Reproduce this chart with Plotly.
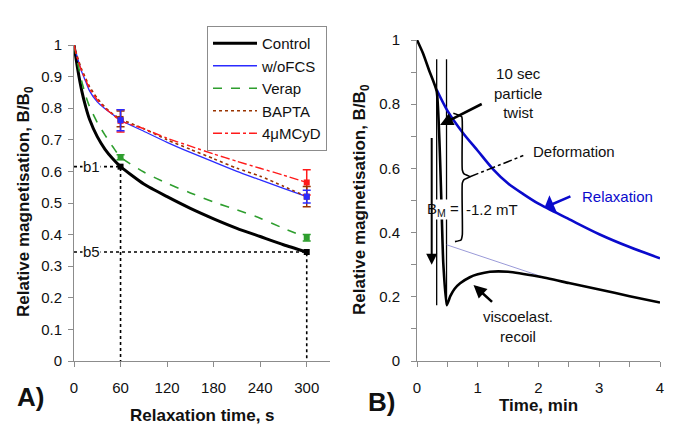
import plotly.graph_objects as go

# ---------------- Panel A data ----------------
t_a = [0, 5, 10, 15, 20, 30, 40, 50, 60, 90, 120, 150, 180, 210, 240, 270, 300]
control = [1.0, 0.92, 0.855, 0.805, 0.765, 0.71, 0.67, 0.64, 0.615, 0.56, 0.52, 0.483, 0.45, 0.42, 0.394, 0.368, 0.345]
wofcs = [1.0, 0.955, 0.915, 0.885, 0.855, 0.82, 0.798, 0.78, 0.762, 0.727, 0.692, 0.66, 0.63, 0.60, 0.573, 0.546, 0.52]
verap = [1.0, 0.94, 0.885, 0.84, 0.805, 0.755, 0.715, 0.678, 0.645, 0.598, 0.562, 0.532, 0.503, 0.478, 0.452, 0.42, 0.39]
bapta = [1.0, 0.958, 0.922, 0.895, 0.868, 0.832, 0.803, 0.782, 0.766, 0.735, 0.70, 0.67, 0.64, 0.61, 0.585, 0.553, 0.52]
cyd = [1.0, 0.952, 0.917, 0.89, 0.862, 0.826, 0.80, 0.78, 0.76, 0.735, 0.705, 0.68, 0.655, 0.632, 0.61, 0.588, 0.565]

t_marks = [60, 300]
control_m = [0.615, 0.345]
control_err = [0.0, 0.0]
wofcs_m = [0.762, 0.52]
wofcs_err = [0.033, 0.02]
verap_m = [0.645, 0.39]
verap_err = [0.008, 0.01]
bapta_m = [0.766, 0.52]
bapta_err = [0.025, 0.032]
cyd_m = [0.76, 0.565]
cyd_err = [0.035, 0.04]

ticks_a_x = [0, 60, 120, 180, 240, 300]
ticks_a_y = [0, 0.1, 0.2, 0.3, 0.4, 0.5, 0.6, 0.7, 0.8, 0.9, 1]
ref_labels = ["b1", "b5"]

# ---------------- Panel B data ----------------
t_b_black = [0, 0.1, 0.2, 0.324, 0.433, 0.489, 0.55, 0.62, 0.71, 0.87, 1.0, 1.2, 1.5, 2.0, 2.5, 3.0, 3.5, 4.0]
v_b_black = [1.0, 0.958, 0.905, 0.84, 0.304, 0.174, 0.203, 0.225, 0.242, 0.261, 0.27, 0.278, 0.278, 0.263, 0.243, 0.223, 0.202, 0.182]
t_b_relax = [0.324, 0.5, 0.75, 1.0, 1.25, 1.5, 1.75, 2.0, 2.5, 3.0, 3.5, 4.0]
v_b_relax = [0.845, 0.78, 0.712, 0.655, 0.598, 0.553, 0.52, 0.49, 0.442, 0.395, 0.355, 0.32]
t_b_extrap = [0.489, 2.1]
v_b_extrap = [0.362, 0.26]
t_pulse = [0.324, 0.486]
v_pulse = [0.94, 0.174]
brace_t = [0.598, 0.736, 0.746, 0.746, 0.774, 0.872, 0.774, 0.746, 0.746, 0.724, 0.625]
brace_v = [0.772, 0.761, 0.735, 0.595, 0.583, 0.574, 0.565, 0.554, 0.393, 0.377, 0.372]
deform_t = [0.872, 1.75]
deform_v = [0.574, 0.64]
ticks_b_x = [0, 0.5, 1, 1.5, 2, 2.5, 3, 3.5, 4]
ticks_b_x_text = ["0", "", "1", "", "2", "", "3", "", "4"]
ticks_b_y = [0, 0.1, 0.2, 0.3, 0.4, 0.5, 0.6, 0.7, 0.8, 0.9, 1]
ticks_b_y_text = ["0", "", "0.2", "", "0.4", "", "0.6", "", "0.8", "", "1"]

FONT = "Liberation Sans, Arial, sans-serif"
BLACK = "#000000"
BLUE = "#2b2bff"
GREEN = "#2e9e2e"
BROWN = "#993300"
RED = "#ff1a1a"
BLUE_B = "#0a0acc"

fig = go.Figure()

series = [
    ("Control", control, control_m, control_err, BLACK, 3.0, "solid"),
    ("w/oFCS", wofcs, wofcs_m, wofcs_err, BLUE, 1.3, "solid"),
    ("Verap", verap, verap_m, verap_err, GREEN, 1.6, "dash"),
    ("BAPTA", bapta, bapta_m, bapta_err, BROWN, 1.6, "dot"),
    ("4\u03bcMCyD", cyd, cyd_m, cyd_err, RED, 1.4, "dashdot"),
]

# reference dotted lines (b1, b5)
ref_x = [0, t_marks[0], t_marks[0], None, 0, t_marks[1], t_marks[1]]
ref_y = [control_m[0], control_m[0], 0, None, control_m[1], control_m[1], 0]
fig.add_trace(go.Scatter(x=ref_x, y=ref_y, mode="lines", xaxis="x", yaxis="y",
                         line=dict(color=BLACK, width=1.6, dash="dot"),
                         showlegend=False, hoverinfo="skip", cliponaxis=False))

for name, vals, mv, me, col, w, dash in series:
    fig.add_trace(go.Scatter(x=t_a, y=vals, mode="lines", name=name, xaxis="x", yaxis="y",
                             line=dict(color=col, width=w, dash=dash, shape="spline", smoothing=0.6),
                             cliponaxis=False))
for name, vals, mv, me, col, w, dash in reversed(series):
    fig.add_trace(go.Scatter(x=t_marks, y=mv, mode="markers", xaxis="x", yaxis="y",
                             marker=dict(symbol="square", size=6, color=col),
                             error_y=dict(type="data", array=me, color=col, thickness=1.5, width=4,
                                          visible=any(e > 0 for e in me)),
                             showlegend=False, cliponaxis=False))

# ---------------- Panel B traces ----------------
fig.add_trace(go.Scatter(x=[t_pulse[0], t_pulse[0], None, t_pulse[1], t_pulse[1]],
                         y=[v_pulse[0], v_pulse[1], None, v_pulse[0], v_pulse[1]],
                         mode="lines", xaxis="x2", yaxis="y2",
                         line=dict(color=BLACK, width=1.3), showlegend=False))
fig.add_trace(go.Scatter(x=t_b_extrap, y=v_b_extrap, mode="lines", xaxis="x2", yaxis="y2",
                         line=dict(color="#9a9ad8", width=1), showlegend=False))
fig.add_trace(go.Scatter(x=t_b_relax, y=v_b_relax, mode="lines", xaxis="x2", yaxis="y2",
                         line=dict(color=BLUE_B, width=2.6, shape="spline", smoothing=0.8),
                         showlegend=False))
fig.add_trace(go.Scatter(x=t_b_black, y=v_b_black, mode="lines", xaxis="x2", yaxis="y2",
                         line=dict(color=BLACK, width=2.6, shape="spline", smoothing=0.5),
                         showlegend=False, cliponaxis=False))
fig.add_trace(go.Scatter(x=deform_t, y=deform_v, mode="lines", xaxis="x2", yaxis="y2",
                         line=dict(color=BLACK, width=1.5, dash="dashdot"), showlegend=False))

txt = dict(family=FONT, size=15, color="#111")
annotations = []
# Panel A reference labels
for lab, v in zip(ref_labels, control_m):
    annotations.append(dict(x=23, y=v, xref="x", yref="y", text=lab, showarrow=False,
                            xanchor="center", yanchor="middle",
                            font=txt, bgcolor="white", borderpad=0))

# B_M text (two parts so the brace shows between)
annotations.append(dict(x=0.700, y=0.472, xref="x2", yref="y2", text="B<sub>M</sub> =", showarrow=False,
                        xanchor="right", yanchor="middle", font=txt, bgcolor="white", borderpad=0))
annotations.append(dict(x=0.790, y=0.472, xref="x2", yref="y2", text="-1.2 mT", showarrow=False,
                        xanchor="left", yanchor="middle", font=txt, bgcolor="white", borderpad=0))
fig.add_trace(go.Scatter(x=brace_t, y=brace_v, mode="lines", xaxis="x2", yaxis="y2",
                         line=dict(color=BLACK, width=1.6, shape="spline", smoothing=0.5),
                         showlegend=False))

# arrows panel B
annotations.append(dict(x=0.242, y=0.30, ax=0.242, ay=0.699, xref="x2", yref="y2", axref="x2", ayref="y2",
                        text="", showarrow=True, arrowhead=2, arrowsize=1.1, arrowwidth=2, arrowcolor=BLACK))
annotations.append(dict(x=0.38, y=0.735, ax=1.09, ay=0.803, xref="x2", yref="y2", axref="x2", ayref="y2",
                        text="", showarrow=True, arrowhead=2, arrowsize=1, arrowwidth=2.6, arrowcolor=BLACK))
annotations.append(dict(x=2.10, y=0.478, ax=2.55, ay=0.515, xref="x2", yref="y2", axref="x2", ayref="y2",
                        text="", showarrow=True, arrowhead=1, arrowsize=1.2, arrowwidth=2.6, arrowcolor=BLUE_B))
annotations.append(dict(x=0.93, y=0.237, ax=1.26, ay=0.18, xref="x2", yref="y2", axref="x2", ayref="y2",
                        text="", showarrow=True, arrowhead=2, arrowsize=1, arrowwidth=2.6, arrowcolor=BLACK))


def ptxt(px, py, text, font, **kw):
    d = dict(x=px / 685, y=1 - py / 438, xref="paper", yref="paper", showarrow=False,
             xanchor="center", yanchor="middle", text=text, font=font)
    d.update(kw)
    return d


title_font = dict(family=FONT, size=17, color="#111")
annotations += [
    ptxt(517.7, 93, "10 sec<br>particle<br>twist", txt, align="center"),
    ptxt(574, 151, "Deformation", txt),
    ptxt(617.5, 197, "Relaxation", dict(family=FONT, size=15, color=BLUE_B)),
    ptxt(518, 326.5, "viscoelast.<br>recoil", txt, align="center"),
    ptxt(25, 202, "<b>Relative magnetisation, B/B<sub>0</sub></b>", title_font, textangle=-90),
    ptxt(361, 199, "<b>Relative magnetisation, B/B<sub>0</sub></b>", title_font, textangle=-90),
    ptxt(202, 415, "<b>Relaxation time, s</b>", title_font),
    ptxt(538, 405, "<b>Time, min</b>", title_font),
    ptxt(30, 397, "<b>A)</b>", dict(family=FONT, size=26, color="#111")),
    ptxt(381, 402, "<b>B)</b>", dict(family=FONT, size=26, color="#111")),
]

axis_common = dict(showline=True, linecolor="#8c8c8c", linewidth=1, ticks="outside", ticklen=5,
                   tickcolor="#8c8c8c", showgrid=False, zeroline=False, automargin=False,
                   tickfont=dict(family=FONT, size=15, color="#111"))

fig.update_layout(
    width=685, height=438, margin=dict(l=0, r=0, t=0, b=0, autoexpand=False),
    paper_bgcolor="white", plot_bgcolor="white",
    font=dict(family=FONT),
    xaxis=dict(domain=[74 / 685, 330 / 685], range=[0, 330], tickvals=ticks_a_x,
               ticklabelstandoff=8, anchor="y", **axis_common),
    yaxis=dict(domain=[1 - 361 / 438, 1 - 45 / 438], range=[0, 1], tickvals=ticks_a_y,
               ticklabelstandoff=3, anchor="x", **axis_common),
    xaxis2=dict(domain=[417 / 685, 660 / 685], range=[0, 4], tickvals=ticks_b_x, ticktext=ticks_b_x_text,
                ticklabelstandoff=8, anchor="y2", **axis_common),
    yaxis2=dict(domain=[1 - 361 / 438, 1 - 40 / 438], range=[0, 1], tickvals=ticks_b_y, ticktext=ticks_b_y_text,
                ticklabelstandoff=8, anchor="x2", **axis_common),
    legend=dict(x=207 / 685, y=1 - 26 / 438, xanchor="left", yanchor="top",
                bordercolor="#8c8c8c", borderwidth=1, bgcolor="white", itemwidth=44,
                font=dict(family=FONT, size=15, color="#111"), tracegroupgap=0),
    annotations=annotations,
)

fig.write_html("out.html", config={"displayModeBar": False},
               post_script="document.body.style.margin='0';document.body.style.overflow='hidden';")
